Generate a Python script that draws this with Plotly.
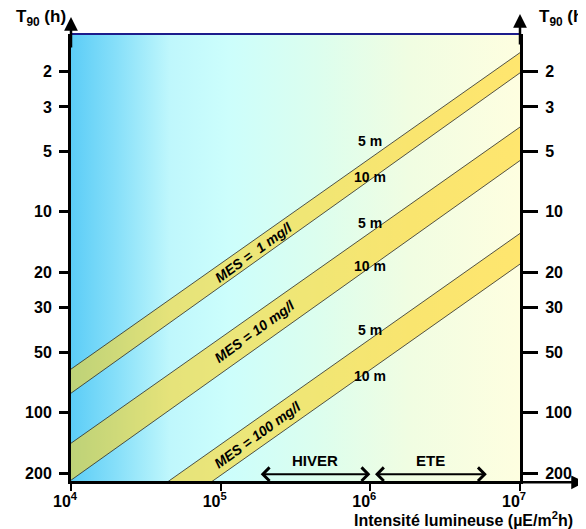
import numpy as np
import plotly.graph_objects as go

# ---------------- data ----------------
intensity_ends = [1e4, 1e7]                     # µE/m2h at left / right edge
mes_labels = ["MES =  1 mg/l", "MES = 10 mg/l", "MES = 100 mg/l"]
t90_5m = [[60.7, 1.61], [142.0, 3.78], [483.0, 12.8]]    # T90 (h) at 1e4 and 1e7, depth 5 m
t90_10m = [[80.0, 2.03], [217.0, 5.55], [689.0, 18.2]]   # T90 (h) at 1e4 and 1e7, depth 10 m

depth_label_I = 1.0e6
depth5_label_T = [4.44, 11.4, 38.8]
depth10_label_T = [6.7, 18.6, 65.8]
mes_label_I = [1.67e5, 1.70e5, 1.75e5]
mes_label_T = [15.9, 39.3, 129.0]

seasons = ["HIVER", "ETE"]
season_start = [1.81e5, 1.05e6]
season_end = [1.0e6, 6.0e6]
season_label_I = [4.27e5, 2.51e6]
season_arrow_T = 202.5
season_label_T = 172.6

x_ticks = [1e4, 1e5, 1e6, 1e7]
x_ticktext = ["10<sup>4</sup>", "10<sup>5</sup>", "10<sup>6</sup>", "10<sup>7</sup>"]
y_ticks = [2, 3, 5, 10, 20, 30, 50, 100, 200]
y_ticktext = [str(v) for v in y_ticks]
t_range = [219.0, 1.30]   # bottom, top

FONT = "Liberation Sans, Arial, sans-serif"

fig = go.Figure()

# background gradient
fig.add_trace(go.Scatter(
    x=[intensity_ends[0], intensity_ends[1], intensity_ends[1], intensity_ends[0], intensity_ends[0]],
    y=[t_range[1], t_range[1], t_range[0], t_range[0], t_range[1]],
    mode="lines", line=dict(width=0), fill="toself",
    fillgradient=dict(type="horizontal", colorscale=[
        [0.0, "#5ccdf7"], [0.1, "#86dff9"], [0.22, "#bff7fc"], [0.35, "#ccfefc"],
        [0.55, "#dcfeee"], [0.75, "#f0fde2"], [1.0, "#fefee0"]]),
    hoverinfo="skip", showlegend=False))

# bands
for i in range(3):
    xs = [intensity_ends[0], intensity_ends[1], intensity_ends[1], intensity_ends[0]]
    ys = [t90_5m[i][0], t90_5m[i][1], t90_10m[i][1], t90_10m[i][0]]
    fig.add_trace(go.Scatter(x=xs, y=ys, mode="lines", line=dict(width=0),
                             fill="toself", fillcolor="rgba(255,213,35,0.6)",
                             hoverinfo="skip", showlegend=False))
    for arr in (t90_5m, t90_10m):
        fig.add_trace(go.Scatter(x=intensity_ends, y=arr[i], mode="lines",
                                 line=dict(color="#2a2a2a", width=0.8),
                                 hoverinfo="skip", showlegend=False))

# invisible trace on right axis
fig.add_trace(go.Scatter(x=[intensity_ends[0]], y=[10], yaxis="y2", mode="markers",
                         marker=dict(opacity=0), hoverinfo="skip", showlegend=False))

ann = []
for i in range(3):
    ann.append(dict(x=np.log10(depth_label_I), y=np.log10(depth5_label_T[i]), text="<b>5 m</b>",
                    showarrow=False, font=dict(size=14, color="black", family=FONT)))
    ann.append(dict(x=np.log10(depth_label_I), y=np.log10(depth10_label_T[i]), text="<b>10 m</b>",
                    showarrow=False, font=dict(size=14, color="black", family=FONT)))
    ann.append(dict(x=np.log10(mes_label_I[i]), y=np.log10(mes_label_T[i]),
                    text="<b><i>" + mes_labels[i].replace("  ", "&nbsp; ") + "</i></b>",
                    textangle=-36, showarrow=False,
                    font=dict(size=14, color="black", family=FONT)))

for s in range(2):
    ann.append(dict(x=np.log10(season_end[s]), y=np.log10(season_arrow_T),
                    ax=np.log10(season_start[s]), ay=np.log10(season_arrow_T),
                    axref="x", ayref="y", xref="x", yref="y", text="",
                    showarrow=True, arrowside="end+start", arrowhead=4, startarrowhead=4,
                    arrowsize=1.3, startarrowsize=1.3, arrowwidth=2, arrowcolor="black",
                    standoff=0, startstandoff=0))
    ann.append(dict(x=np.log10(season_label_I[s]), y=np.log10(season_label_T), text="<b>" + seasons[s] + "</b>",
                    showarrow=False, font=dict(size=15, color="black", family=FONT)))

# axis arrows
ann.append(dict(xref="paper", yref="paper", x=0, y=1.038, ax=0, ay=32, text="", showarrow=True,
                arrowhead=2, arrowsize=1.1, arrowwidth=2.5, arrowcolor="black", standoff=0))
ann.append(dict(xref="paper", yref="paper", x=1, y=1.045, ax=0, ay=32, text="", showarrow=True,
                arrowhead=2, arrowsize=1.1, arrowwidth=2.5, arrowcolor="black", standoff=0))
ann.append(dict(xref="paper", yref="paper", x=1.145, y=-0.003, ax=-72, ay=0, text="", showarrow=True,
                arrowhead=2, arrowsize=1.1, arrowwidth=2.5, arrowcolor="black", standoff=0))

# axis titles
ann.append(dict(xref="paper", yref="paper", x=-0.127, y=1.036, xanchor="left", yanchor="middle",
                text="<b>T<sub>90</sub> (h)</b>", showarrow=False,
                font=dict(size=17, color="black", family=FONT)))
ann.append(dict(xref="paper", yref="paper", x=1.038, y=1.036, xanchor="left", yanchor="middle",
                text="<b>T<sub>90</sub> (h)</b>", showarrow=False,
                font=dict(size=17, color="black", family=FONT)))
ann.append(dict(xref="paper", yref="paper", x=1.1225, y=-0.084, xanchor="right", yanchor="middle",
                text="<b>Intensité lumineuse (µE/m<sup>2</sup>h)</b>", showarrow=False,
                font=dict(size=16, color="black", family=FONT)))

yr = [np.log10(t_range[0]), np.log10(t_range[1])]
axis_font = dict(size=16, color="black", family=FONT, weight="bold")

fig.update_layout(
    width=578, height=521,
    margin=dict(l=63, r=66, t=26, b=48),
    paper_bgcolor="white", plot_bgcolor="white",
    showlegend=False,
    xaxis=dict(type="log", range=[4, 7], showgrid=False, zeroline=False,
               showline=True, linecolor="black", linewidth=3,
               ticks="outside", ticklen=7, tickwidth=2, tickcolor="black",
               tickvals=x_ticks, ticktext=x_ticktext, tickfont=axis_font,
               ticklabelshift=-6, ticklabelstandoff=-3),
    yaxis=dict(type="log", range=yr, autorange=False, showgrid=False, zeroline=False,
               showline=True, linecolor="black", linewidth=3,
               ticks="outside", ticklen=9, tickwidth=3, tickcolor="black",
               tickvals=y_ticks, ticktext=y_ticktext, tickfont=axis_font,
               ticklabelstandoff=4),
    yaxis2=dict(type="log", range=yr, autorange=False, overlaying="y", side="right",
                anchor="x", showgrid=False, zeroline=False,
                showline=True, linecolor="black", linewidth=3,
                ticks="outside", ticklen=15, tickwidth=3, tickcolor="black",
                tickvals=y_ticks, ticktext=y_ticktext, tickfont=axis_font,
                ticklabelstandoff=4),
    shapes=[dict(type="line", xref="paper", yref="paper", x0=0, x1=1, y0=1, y1=1,
                 line=dict(color="#1c1c8c", width=2), layer="above")],
    annotations=ann,
)

fig.write_html("out.html")
